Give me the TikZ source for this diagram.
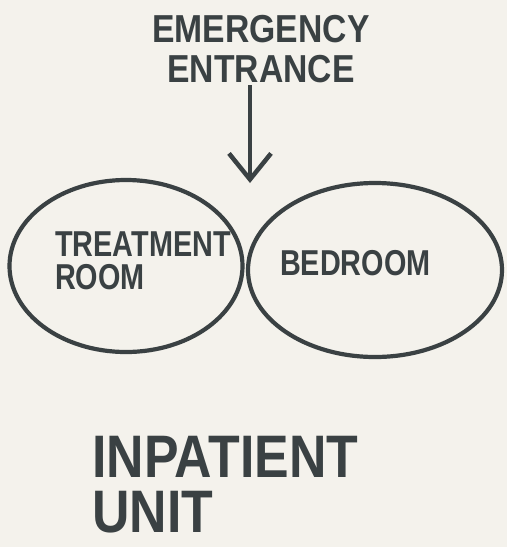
\documentclass[tikz,border=0pt]{standalone}
\usepackage{fontspec}
\setmainfont{Liberation Sans}
\usetikzlibrary{arrows.meta,positioning,shapes.geometric}
\definecolor{ink}{HTML}{3A4143}
\definecolor{paper}{HTML}{F4F2EC}

\begin{document}
\begin{tikzpicture}[
  x=1pt, y=-1pt,
  room/.style={draw=ink, ellipse, line width=4.2pt, inner sep=0pt},
  hand/.style={font=\bfseries\fontsize{36}{33}\selectfont, text=ink, inner sep=0pt,
               align=left, xscale=0.8, transform shape},
  arr/.style={-{Straight Barb[length=26pt, width=42pt]}, line width=4.5pt, draw=ink}
]
\fill[paper] (0,0) rectangle (507,547);
\useasboundingbox (0,0) rectangle (507,547);

% the two rooms
\node[room, minimum width=233pt, minimum height=172pt] (treat) at (126,266) {};
\node[room, minimum width=254pt, minimum height=174pt] (bed) at (375,270) {};

\node[hand, anchor=west] (treatlbl) at (55,261) {TREATMENT\\ROOM};
\node[hand, anchor=west] (bedlbl) at (280,263) {BEDROOM};

% entrance from above
\node[hand, align=center, font=\bfseries\fontsize{39}{40}\selectfont, xscale=1.08]
  (entrance) at (261,49) {EMERGENCY\\ENTRANCE};
\coordinate (door) at (250,183);
\draw[arr] (entrance.south -| door) ++(0,2) -- (door);

% caption
\node[hand, anchor=west, font=\bfseries\fontsize{60}{55}\selectfont, xscale=1.08]
  (unit) at (92,485) {INPATIENT\\UNIT};
\end{tikzpicture}
\end{document}
